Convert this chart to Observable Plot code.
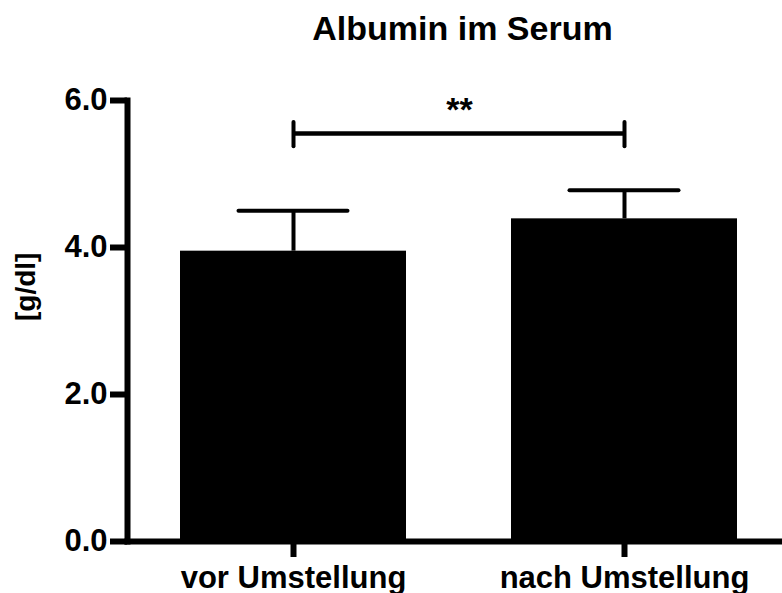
<!DOCTYPE html>
<html>
<head>
<meta charset="utf-8">
<script src="https://cdn.jsdelivr.net/npm/d3@7"></script>
<script src="https://cdn.jsdelivr.net/npm/@observablehq/plot@0.6"></script>
<style>
  html, body { margin: 0; padding: 0; background: #fff; }
  #wrap { position: relative; width: 782px; height: 593px; font-family: "Liberation Sans", Arial, Helvetica, sans-serif; }
  #title { position: absolute; top: 11px; left: 462.5px; transform: translateX(-50%); font-size: 34px; line-height: 34px; font-weight: bold; white-space: nowrap; color: #000; }
  #chart { position: absolute; top: 0; left: 0; }
</style>
</head>
<body>
<div id="wrap">
  <div id="chart"></div>
  <div id="title">Albumin im Serum</div>
</div>
<script>
// ---- data ----
const groups = ["vor Umstellung", "nach Umstellung"];
const means = [3.95, 4.39];
const upperErrors = [4.50, 4.78];
const yTicks = [0, 2, 4, 6];
const yLabel = "[g/dl]";
const sigFrom = "vor Umstellung";
const sigTo = "nach Umstellung";
const sigLevel = 5.55;
const sigEndLow = 5.37;
const sigEndHigh = 5.70;
const sigLabel = "**";

const data = groups.map((g, i) => ({group: g, mean: means[i], upper: upperErrors[i]}));
const sig = [{from: sigFrom, to: sigTo, y: sigLevel, lo: sigEndLow, hi: sigEndHigh, label: sigLabel}];
const sigEnds = [sigFrom, sigTo].map(g => ({group: g, lo: sigEndLow, hi: sigEndHigh}));

const font = '"Liberation Sans", Arial, Helvetica, sans-serif';

const chart = Plot.plot({
  width: 782,
  height: 593,
  marginLeft: 127,
  marginRight: 0,
  marginTop: 100,
  marginBottom: 52,
  style: {fontFamily: font, fontWeight: "bold", color: "#000", background: "#fff", overflow: "visible"},
  x: {domain: groups, type: "band", paddingInner: 0.3163, paddingOuter: 0.1446, align: 0.547, label: null},
  y: {domain: [0, 6], label: null},
  marks: [
    Plot.barY(data, {x: "group", y: "mean", fill: "#000"}),
    Plot.ruleX(data, {x: "group", y1: "mean", y2: "upper", stroke: "#000", strokeWidth: 4}),
    Plot.tickY(data, {x: "group", y: "upper", stroke: "#000", strokeWidth: 4, strokeLinecap: "round", insetLeft: 58.5, insetRight: 58.5}),
    Plot.link(sig, {x1: "from", x2: "to", y1: "y", y2: "y", stroke: "#000", strokeWidth: 4.5}),
    Plot.ruleX(sigEnds, {x: "group", y1: "lo", y2: "hi", stroke: "#000", strokeWidth: 4, strokeLinecap: "round"}),
    Plot.text(sig, {x: "from", y: "y", text: "label", dx: 166, dy: -23, fontSize: 34, fontWeight: "bold", fill: "#000"}),
    Plot.frame({anchor: "left", stroke: "#000", strokeWidth: 6}),
    Plot.frame({anchor: "bottom", stroke: "#000", strokeWidth: 6}),
    Plot.axisY({ticks: yTicks, tickFormat: d3.format(".1f"), tickSize: 17, tickPadding: 3, strokeWidth: 6, fontSize: 31, fontWeight: "bold", label: null}),
    Plot.axisX({tickSize: 16, tickPadding: 8, strokeWidth: 6, fontSize: 31, fontWeight: "bold", label: null}),
    Plot.text([yLabel], {frameAnchor: "left", text: d => d, rotate: -90, dx: -101.5, fontSize: 28, fontWeight: "bold", fill: "#000"})
  ]
});
document.getElementById("chart").appendChild(chart);
</script>
</body>
</html>
